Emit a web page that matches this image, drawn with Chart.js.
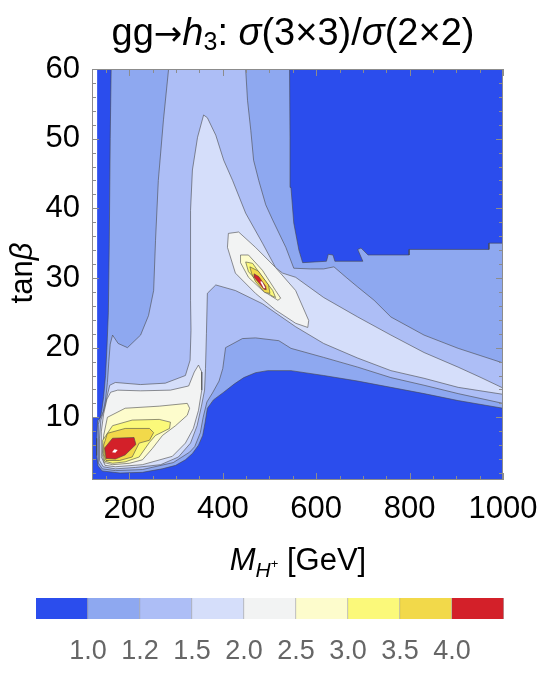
<!DOCTYPE html>
<html>
<head>
<meta charset="utf-8">
<script src="https://cdn.jsdelivr.net/npm/chart.js@4.4.0/dist/chart.umd.min.js"></script>
<style>
body{margin:0;background:#fff;}
#wrap{position:relative;width:542px;height:680px;font-family:"Liberation Sans",Arial,Helvetica,sans-serif;overflow:hidden;}
#main{position:absolute;left:0;top:0;}
#bar{position:absolute;left:0;top:580px;}
.lbl{position:absolute;white-space:nowrap;color:#000;text-align:center;}
#title{left:22px;width:542px;top:13px;font-size:38px;line-height:38px;}
#title .arr{font-family:"DejaVu Sans",sans-serif;font-size:34px;}
#title sub{font-size:25px;line-height:0;vertical-align:-5px;}
#xt{left:27px;width:542px;top:544px;font-size:31px;line-height:31px;}
#xt sub{font-size:21px;line-height:0;vertical-align:-7px;}
#xt sup{font-size:13px;line-height:0;vertical-align:9px;}
#yt{left:-78px;top:253px;width:200px;height:40px;font-size:31px;line-height:40px;transform:rotate(-90deg);}
</style>
</head>
<body>
<div id="wrap">
<canvas id="main" width="542" height="560"></canvas>
<canvas id="bar" width="542" height="100"></canvas>
<div class="lbl" id="title">gg<span class="arr">→</span><i>h</i><sub>3</sub>: <i>σ</i>(3×3)/<i>σ</i>(2×2)</div>
<div class="lbl" id="xt"><i>M</i><sub><i>H</i><sup>+</sup></sub> [GeV]</div>
<div class="lbl" id="yt">tan<i>β</i></div>
</div>
<script>
// axes
var xTicks = [200, 400, 600, 800, 1000]
var xTickLabels = ["200", "400", "600", "800", "1000"]
var yTicks = [10, 20, 30, 40, 50, 60]
var yTickLabels = ["10", "20", "30", "40", "50", "60"]
var xMinor = [150, 250, 300, 350, 450, 500, 550, 650, 700, 750, 850, 900, 950]
var yMinor = [2, 4, 6, 8, 12, 14, 16, 18, 22, 24, 26, 28, 32, 34, 36, 38, 42, 44, 46, 48, 52, 54, 56, 58]

// colour scale
var levels = ["1.0", "1.2", "1.5", "2.0", "2.5", "3.0", "3.5", "4.0"]
var levelColors = ["#2b4ded", "#8ea8f0", "#adbef6", "#d5defa", "#f2f3f3", "#fdfccc", "#fbf97a", "#f2d94a", "#d32029"]

// region where the ratio was computed (M_H+, tanb)
var domain = [[120,1],[120,10],[131,10],[131,60],[1000,60],[1000,1]]

// contour regions: ratio >= level
var ratio10 = [[161,60],[159,50],[157,35],[155,25],[152,20],[149,16],[145,13],[141,11],[138,10],[132,9.5],[130,7],[130,4.5],[133,3.0],[142,2.3],[180,2.0],[228,2.1],[270,2.6],[299,3.1],[320,3.9],[335,4.8],[348,6.0],[357,7.4],[362,9.2],[367,11.3],[380,12.5],[402,13.6],[425,14.8],[445,15.7],[470,16.4],[496,16.7],[546,16.7],[616,16.0],[689,15.2],[760,14.3],[831,13.4],[904,12.4],[1000,11.3],[1000,35],[970,35],[970,34.1],[799,34.1],[799,33.3],[711,33.3],[696,34.3],[689,34.1],[700,32.4],[640,32.4],[636,33.3],[626,33.4],[622,32.4],[571,32.2],[563,34],[552,37.9],[546,43],[544,50],[543,60]]

var ratio12 = [[284,60],[449,60],[453,55.5],[460,51.2],[466,46.9],[477,44.0],[492,40.5],[507,38.3],[535,34.4],[552,31.4],[588,31.3],[616,31.3],[638,31.6],[664,30.1],[689,28.7],[724,26.8],[760,24.4],[831,21.8],[904,19.9],[1000,17.8],[1000,12.0],[904,13.4],[831,14.6],[760,15.7],[689,17.2],[616,18.6],[546,19.9],[520,21.0],[470,21.4],[442,21.3],[406,20.0],[400,17.0],[392,15.2],[378,13.5],[366,12.2],[358,10.0],[352,7.8],[340,5.8],[329,5.0],[294,3.5],[228,2.5],[170,2.35],[142,2.6],[134,3.4],[133,6],[134,9],[137,9.8],[144,10.8],[149,12.5],[153,15],[156,18],[159,20.5],[164,21.8],[176,20.6],[196,20.0],[224,21.8],[241,24.6],[252,28.2],[256,35.4],[262,44.0],[273,52.7]]

var ratio15 = [[359,53.4],[367,53.0],[385,50.5],[402,46.9],[421,44.0],[449,39.3],[485,35.0],[513,31.5],[528,30.7],[556,30.1],[616,27.2],[689,24.4],[760,21.8],[831,19.3],[904,17.2],[953,15.7],[1000,14.2],[1000,13.3],[904,14.3],[831,15.6],[760,16.7],[689,18.5],[616,20.6],[556,23.0],[485,26.3],[427,28.2],[385,29.0],[367,27.8],[365,22],[363,17],[361,13.9],[354,11.5],[345,8.8],[331,6.3],[305,4.3],[267,3.2],[213,2.8],[170,2.6],[144,2.9],[136,3.8],[136,7],[139,9.6],[148,11.5],[153,13.2],[158,14.6],[170,15.0],[224,14.7],[277,14.9],[320,16.0],[330,18.2],[332,22.5],[331,26.8],[331,31.1],[331,39.7],[335,45.5],[346,50.2]]

// low tanb peak
var peakA20 = [[141,4.2],[140,8],[145,10.5],[152,12.6],[160,13.6],[175,13.9],[224,13.8],[288,13.9],[327,14.5],[339,16.5],[348,17.5],[355,16.5],[355,13.9],[348,11.0],[337,8.4],[320,6.3],[292,4.4],[228,3.2],[170,2.9],[148,3.1]]
var peakA25 = [[142,4.6],[145,7.4],[153,10.0],[191,11.3],[264,11.6],[324,12.0],[329,11.3],[324,10.3],[299,8.8],[271,7.4],[249,5.5],[228,3.9],[200,3.4],[164,3.2],[146,3.5]]
var peakA30 = [[143,6.7],[164,8.8],[206,9.6],[264,9.7],[288,9.3],[286,8.4],[256,7.4],[243,6.4],[221,4.3],[191,3.6],[164,3.4],[147,3.7],[144,4.8]]
var peakA35 = [[145,6.0],[153,7.7],[191,8.4],[243,8.4],[252,7.8],[243,6.7],[221,6.3],[206,4.3],[179,3.8],[150,3.8],[146,4.6]]
var peakA40 = [[147,5.6],[164,7.0],[210,7.1],[214,6.1],[191,4.6],[170,4.0],[150,4.1]]
var peakAtop = [[163,5.0],[168,5.4],[175,5.3],[170,4.9]]

// peak near 480 GeV
var peakB20 = [[412,36.4],[434,36.6],[470,34.4],[513,31.5],[556,28.2],[584,23.9],[582,22.9],[556,23.5],[513,25.4],[470,27.8],[427,30.7],[410,34.4]]
var peakB25 = [[438,33.3],[455,33.3],[485,31.1],[513,28.2],[524,27.1],[518,26.8],[485,28.2],[455,30.1],[438,32.2]]
var peakB30 = [[449,32.3],[464,32.1],[485,30.1],[507,28.2],[513,27.2],[503,27.5],[477,29.3],[455,30.9]]
var peakB35 = [[458,31.6],[476,31.0],[498,29.0],[501,27.8],[490,27.9],[470,29.5],[462,30.6]]
var peakB40 = [[467,30.6],[477,30.2],[492,28.8],[493,28.3],[488,28.4],[476,29.4],[467,30.1]]
var peakBtop = [[480,29.5],[484,29.5],[491,28.6],[488,28.5]]

var lineCol = "rgba(70,70,70,0.65)"

function region(pts, color, edge) {
    var d = pts.map(function(p){ return {x: p[0], y: p[1]} })
    d.push({x: pts[0][0], y: pts[0][1]})
    return {
        data: d,
        showLine: true,
        fill: 'shape',
        backgroundColor: color,
        borderColor: edge ? lineCol : 'rgba(0,0,0,0)',
        borderWidth: edge ? 0.9 : 0,
        pointRadius: 0,
        pointHoverRadius: 0,
        tension: 0,
        borderJoinStyle: 'round'
    }
}

var layers = [
    region(domain, levelColors[0], false),
    region(ratio10, levelColors[1], true),
    region(ratio12, levelColors[2], true),
    region(ratio15, levelColors[3], true),
    region(peakA20, levelColors[4], true),
    region(peakB20, levelColors[4], true),
    region(peakA25, levelColors[5], true),
    region(peakB25, levelColors[5], true),
    region(peakA30, levelColors[6], true),
    region(peakB30, levelColors[6], true),
    region(peakA35, levelColors[7], true),
    region(peakB35, levelColors[7], true),
    region(peakA40, levelColors[8], true),
    region(peakB40, levelColors[8], true),
    region(peakAtop, "#ffffff", false),
    region(peakBtop, "#ffffff", false)
]
// later layers on top
for (var i = 0; i < layers.length; i++) layers[i].order = layers.length - i

// frame with inward ticks on all four sides
var frameTicks = {
    id: 'frameTicks',
    afterDatasetsDraw: function(chart) {
        var c = chart.ctx, a = chart.chartArea
        var sx = chart.scales.x, sy = chart.scales.y
        c.save()
        c.strokeStyle = '#8c8c8c'
        c.lineWidth = 1
        c.beginPath()
        function xt(v, len) {
            var p = Math.round(sx.getPixelForValue(v)) + 0.5
            c.moveTo(p, a.bottom); c.lineTo(p, a.bottom - len)
            c.moveTo(p, a.top); c.lineTo(p, a.top + len)
        }
        function yt(v, len) {
            var p = Math.round(sy.getPixelForValue(v)) + 0.5
            c.moveTo(a.left, p); c.lineTo(a.left + len, p)
            c.moveTo(a.right, p); c.lineTo(a.right - len, p)
        }
        xMinor.forEach(function(v){ xt(v, 4) })
        xTicks.forEach(function(v){ xt(v, 7) })
        yMinor.forEach(function(v){ yt(v, 4) })
        yTicks.forEach(function(v){ yt(v, 7) })
        c.stroke()
        c.strokeRect(a.left + 0.5, a.top + 0.5, a.right - a.left - 1, a.bottom - a.top - 1)
        c.restore()
    }
}

var tickFont = {family: '"Liberation Sans", Arial, Helvetica, sans-serif', size: 31}

new Chart(document.getElementById("main"), {
    type: 'scatter',
    data: {datasets: layers},
    options: {
        responsive: false,
        animation: false,
        layout: {padding: {top: 69, right: 39, left: 0, bottom: 0}},
        plugins: {legend: {display: false}, tooltip: {enabled: false}},
        scales: {
            x: {
                type: 'linear', min: 120, max: 1000,
                afterBuildTicks: function(s){ s.ticks = xTicks.map(function(v){ return {value: v} }) },
                afterFit: function(s){ s.height = 80 },
                grid: {display: false},
                border: {display: false},
                ticks: {font: tickFont, color: '#000', padding: 3, maxRotation: 0, autoSkip: false,
                    callback: function(v, i){ return xTickLabels[i] }}
            },
            y: {
                type: 'linear', min: 1, max: 60,
                afterBuildTicks: function(s){ s.ticks = yTicks.map(function(v){ return {value: v} }) },
                afterFit: function(s){ s.width = 92 },
                grid: {display: false},
                border: {display: false},
                ticks: {font: tickFont, color: '#000', padding: 4, autoSkip: false,
                    callback: function(v, i){ return yTickLabels[i] }}
            }
        }
    },
    plugins: [frameTicks]
})

// colour bar
var barPositions = [1, 2, 3, 4, 5, 6, 7, 8]
new Chart(document.getElementById("bar"), {
    type: 'bar',
    data: {
        labels: [''],
        datasets: levelColors.map(function(col){
            return {data: [1], backgroundColor: col, borderColor: 'rgba(110,110,110,0.55)',
                borderWidth: {right: 1}, borderSkipped: false, barPercentage: 1, categoryPercentage: 1}
        })
    },
    options: {
        indexAxis: 'y',
        responsive: false,
        animation: false,
        layout: {padding: {top: 18, left: 36, right: 38, bottom: 0}},
        plugins: {legend: {display: false}, tooltip: {enabled: false}},
        scales: {
            x: {
                stacked: true, min: 0, max: 9,
                afterBuildTicks: function(s){ s.ticks = barPositions.map(function(v){ return {value: v} }) },
                afterFit: function(s){ s.height = 61 },
                grid: {display: false},
                border: {display: false},
                ticks: {font: {family: '"Liberation Sans", Arial, sans-serif', size: 27}, color: '#666', padding: 8,
                    maxRotation: 0, autoSkip: false, callback: function(v, i){ return levels[i] }}
            },
            y: {stacked: true, display: false}
        }
    }
})
</script>
</body>
</html>
